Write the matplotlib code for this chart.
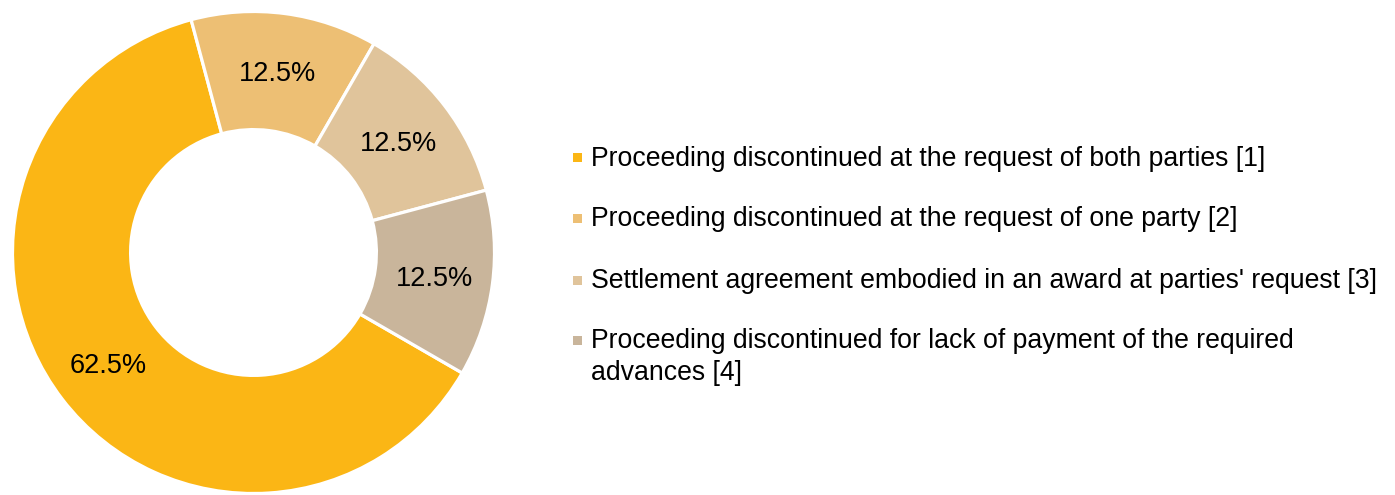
import matplotlib
matplotlib.use("Agg")
import matplotlib.pyplot as plt
from matplotlib.patches import Rectangle
from matplotlib import transforms

plt.rcParams['font.family'] = ['Liberation Sans', 'DejaVu Sans']

labels = [
    "Proceeding discontinued at the request of both parties [1]",
    "Proceeding discontinued at the request of one party [2]",
    "Settlement agreement embodied in an award at parties' request [3]",
    "Proceeding discontinued for lack of payment of the required\nadvances [4]",
]
shares = [62.5, 12.5, 12.5, 12.5]
colors = ["#FBB615", "#EDBF74", "#E0C49B", "#C9B59B"]

W, H = 1395, 495
fig = plt.figure(figsize=(W / 100, H / 100), dpi=100)

# donut, centre ~ (253.5, 252.5) px from top-left, outer radius ~241 px
cx, cy, r = 253.5, 495 - 252.5, 241.0
ax = fig.add_axes([(cx - r) / W, (cy - r) / H, 2 * r / W, 2 * r / H])
wedges, texts, autotexts = ax.pie(
    shares, colors=colors, startangle=-30, counterclock=False,
    radius=1.0, autopct="%.1f%%", pctdistance=0.758,
    wedgeprops=dict(width=0.49, edgecolor="white", linewidth=2.3),
    textprops=dict(fontsize=19.5, color="black"))
# put the middle of the digits (not of the text box) on the anchor
shift = transforms.offset_copy(ax.transData, fig=fig, y=-9.7, units="dots")
for t in autotexts:
    t.set_transform(shift)
    t.set_va("baseline")
ax.set_xlim(-1, 1)
ax.set_ylim(-1, 1)
ax.set_aspect("equal")
ax.axis("off")

# legend drawn by hand
ys = [157, 218, 280, 340]
for lab, col, y in zip(labels, colors, ys):
    fig.patches.append(Rectangle((573 / W, 1 - (y + 4.5) / H), 9 / W, 9 / H,
                                 facecolor=col, edgecolor="none",
                                 transform=fig.transFigure))
    for i, line in enumerate(lab.split("\n")):
        fig.text(591 / W, 1 - (y + 8.5 + 32 * i) / H, line, fontsize=19.2,
                 va="baseline", ha="left")

fig.savefig("out.png", dpi=100)
